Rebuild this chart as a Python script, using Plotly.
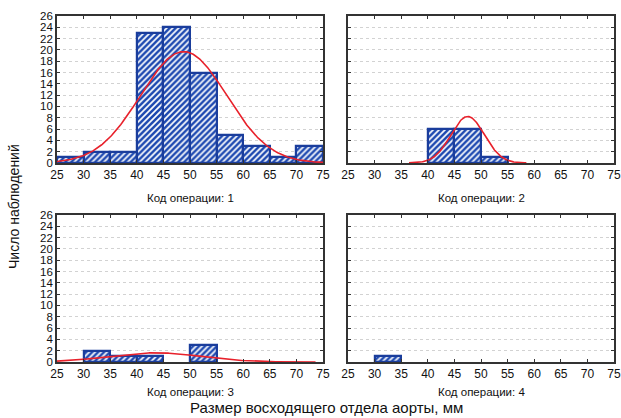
import numpy as np
import plotly.graph_objects as go

# Histogram bins: 5 mm wide, 25..75
bin_left = [25, 30, 35, 40, 45, 50, 55, 60, 65, 70]
bin_width = 5

# Counts per operation code
counts_op1 = [1, 2, 2, 23, 24, 16, 5, 3, 1, 3]
counts_op2 = [0, 0, 0, 6, 6, 1, 0, 0, 0, 0]
counts_op3 = [0, 2, 1, 1, 0, 3, 0, 0, 0, 0]
counts_op4 = [0, 1, 0, 0, 0, 0, 0, 0, 0, 0]

# Fitted normal curve parameters (mean, sd) per operation code; None = no curve
fit_op1 = (48.8, 8.1)
fit_op2 = (47.5, 3.15)
fit_op3 = (43.5, 8.6)
fit_op4 = None

panel_titles = ["Код операции: 1", "Код операции: 2", "Код операции: 3", "Код операции: 4"]
y_title = "Число наблюдений"
x_title = "Размер восходящего отдела аорты, мм"

x_ticks = list(range(25, 80, 5))
y_ticks = list(range(0, 28, 2))

W, H = 621, 418
FONT = "Liberation Sans, Arial, sans-serif"
BAR_LINE = "#1a3d9c"
BAR_HATCH = "#1c48b0"
CURVE = "#e8212b"
FRAME = "#333333"
TEXT = "#111111"

# panel pixel boxes: (left, right, top, bottom)
boxes = [(57, 323, 16, 163), (348, 614, 16, 163),
         (57, 323, 215, 362), (348, 614, 215, 362)]
# vertical offset of each panel's caption below its plot area
title_gap = [35, 35, 30, 30]

fig = go.Figure()
series = [counts_op1, counts_op2, counts_op3, counts_op4]
fits = [fit_op1, fit_op2, fit_op3, fit_op4]

for i, (cnts, fit) in enumerate(zip(series, fits)):
    n = i + 1
    xa = "x" if n == 1 else f"x{n}"
    ya = "y" if n == 1 else f"y{n}"
    xs = [l + bin_width / 2 for l, c in zip(bin_left, cnts) if c > 0]
    ys = [c for c in cnts if c > 0]
    fig.add_trace(go.Bar(
        x=xs, y=ys, width=bin_width, xaxis=xa, yaxis=ya,
        marker=dict(color="white",
                    line=dict(color=BAR_LINE, width=2.2),
                    pattern=dict(shape="/", fgcolor=BAR_HATCH, bgcolor="white",
                                 size=4.2, solidity=0.6, fillmode="replace")),
        showlegend=False, hoverinfo="skip"))
    if fit is not None:
        mu, sd = fit
        total = sum(cnts)
        lo, hi = max(25, mu - 3.5 * sd), min(75, mu + 3.5 * sd)
        gx = np.linspace(lo, hi, 301)
        gy = total * bin_width / (sd * np.sqrt(2 * np.pi)) * np.exp(-0.5 * ((gx - mu) / sd) ** 2)
        fig.add_trace(go.Scatter(x=gx, y=gy, mode="lines", xaxis=xa, yaxis=ya,
                                 line=dict(color=CURVE, width=1.6),
                                 showlegend=False, hoverinfo="skip"))

layout = dict(
    width=W, height=H, margin=dict(l=0, r=0, t=0, b=0),
    paper_bgcolor="white", plot_bgcolor="white",
    font=dict(family=FONT, size=11, color=TEXT),
    bargap=0,
)

for i, (l, r, t, b) in enumerate(boxes):
    n = i + 1
    xk = "xaxis" if n == 1 else f"xaxis{n}"
    yk = "yaxis" if n == 1 else f"yaxis{n}"
    ya = "y" if n == 1 else f"y{n}"
    xa = "x" if n == 1 else f"x{n}"
    layout[xk] = dict(
        domain=[l / W, r / W], range=[25, 75], anchor=ya, automargin=False,
        tickmode="array", tickvals=x_ticks, ticktext=[str(v) for v in x_ticks],
        ticks="inside", ticklen=3, tickcolor=FRAME, tickwidth=1,
        showline=True, linecolor=FRAME, linewidth=1.6, mirror="ticks",
        showgrid=False, zeroline=False, fixedrange=True,
        tickfont=dict(size=12, family=FONT, color=TEXT),
    )
    layout[yk] = dict(
        domain=[(H - b) / H, (H - t) / H], range=[0, 26], anchor=xa, automargin=False,
        tickmode="array", tickvals=y_ticks, ticktext=[str(v) for v in y_ticks],
        showticklabels=(n in (1, 3)),
        ticks="inside", ticklen=3, tickcolor=FRAME, tickwidth=1,
        showline=True, linecolor=FRAME, linewidth=1.6, mirror="ticks",
        showgrid=True, gridcolor="#d2d2d2", gridwidth=1, griddash="dot",
        zeroline=False, fixedrange=True,
        tickfont=dict(size=11.5, family=FONT, color=TEXT),
    )

annotations = []
for (l, r, t, b), gap, title in zip(boxes, title_gap, panel_titles):
    annotations.append(dict(
        x=(l + r) / 2 / W, y=(H - (b + gap)) / H, xref="paper", yref="paper",
        text=title, showarrow=False, xanchor="center", yanchor="middle",
        font=dict(size=11.5, family=FONT, color=TEXT)))
annotations.append(dict(
    x=14 / W, y=(H - 207) / H, xref="paper", yref="paper", text=y_title,
    textangle=-90, showarrow=False, xanchor="center", yanchor="middle",
    font=dict(size=14, family=FONT, color=TEXT)))
annotations.append(dict(
    x=326 / W, y=0, xref="paper", yref="paper", text=x_title,
    showarrow=False, xanchor="center", yanchor="bottom",
    font=dict(size=15, family=FONT, color=TEXT)))
layout["annotations"] = annotations

fig.update_layout(**layout)
fig.write_html("out.html")
